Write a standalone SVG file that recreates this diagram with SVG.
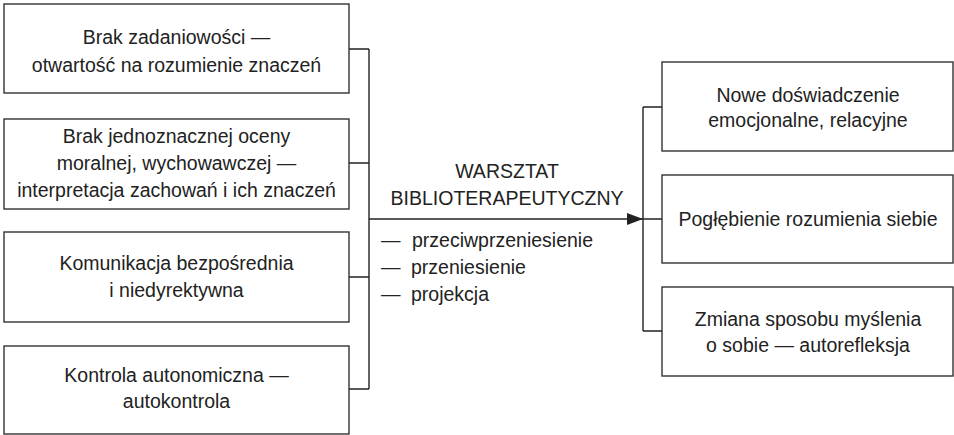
<svg xmlns="http://www.w3.org/2000/svg" width="954" height="435" viewBox="0 0 954 435">
<style>
.box{fill:#fff;stroke:#333;stroke-width:1.4}
.ln{fill:none;stroke:#222;stroke-width:1.4}
text{font-family:"Liberation Sans",Arial,sans-serif;font-size:19.5px;fill:#222}
.c{text-anchor:middle}
</style>
<defs>
<marker id="ah" markerWidth="16" markerHeight="12" refX="16" refY="6" orient="auto" markerUnits="userSpaceOnUse">
<path d="M0,0 L16,6 L0,12 Z" fill="#222"/>
</marker>
</defs>
<g id="connectors">
<path class="ln" d="M349,49 H369 M349,163 H369 M349,277 H369 M349,389 H369 M369,49 V389"/>
<path class="ln" d="M369,219 H643" marker-end="url(#ah)"/>
<path class="ln" d="M643,219 H662 M643,107 H662 M643,331 H662 M643,107 V331"/>
</g>
<g id="n1"><rect class="box" x="4" y="4" width="345" height="89"/>
<text class="c" x="176.5" y="44">Brak zadaniowości —</text>
<text class="c" x="176.5" y="72">otwartość na rozumienie znaczeń</text></g>
<g id="n2"><rect class="box" x="4" y="119" width="345" height="90"/>
<text class="c" x="176.5" y="143">Brak jednoznacznej oceny</text>
<text class="c" x="176.5" y="170">moralnej, wychowawczej —</text>
<text class="c" x="176.5" y="197">interpretacja zachowań i ich znaczeń</text></g>
<g id="n3"><rect class="box" x="4" y="232" width="345" height="90"/>
<text class="c" x="176.5" y="270">Komunikacja bezpośrednia</text>
<text class="c" x="176.5" y="297">i niedyrektywna</text></g>
<g id="n4"><rect class="box" x="4" y="346" width="345" height="88"/>
<text class="c" x="176.5" y="382">Kontrola autonomiczna —</text>
<text class="c" x="176.5" y="408">autokontrola</text></g>
<g id="center">
<text class="c" x="507" y="178">WARSZTAT</text>
<text class="c" x="507" y="205">BIBLIOTERAPEUTYCZNY</text>
<text y="247"><tspan x="381">—</tspan><tspan x="412">przeciwprzeniesienie</tspan></text>
<text y="274"><tspan x="381">—</tspan><tspan x="411">przeniesienie</tspan></text>
<text y="301"><tspan x="381">—</tspan><tspan x="411">projekcja</tspan></text>
</g>
<g id="r1"><rect class="box" x="662" y="62" width="291" height="89"/>
<text class="c" x="808" y="102">Nowe doświadczenie</text>
<text class="c" x="808" y="127">emocjonalne, relacyjne</text></g>
<g id="r2"><rect class="box" x="662" y="175" width="291" height="88"/>
<text class="c" x="808" y="226">Pogłębienie rozumienia siebie</text></g>
<g id="r3"><rect class="box" x="662" y="287" width="291" height="89"/>
<text class="c" x="808" y="326">Zmiana sposobu myślenia</text>
<text class="c" x="808" y="352">o sobie — autorefleksja</text></g>
</svg>
